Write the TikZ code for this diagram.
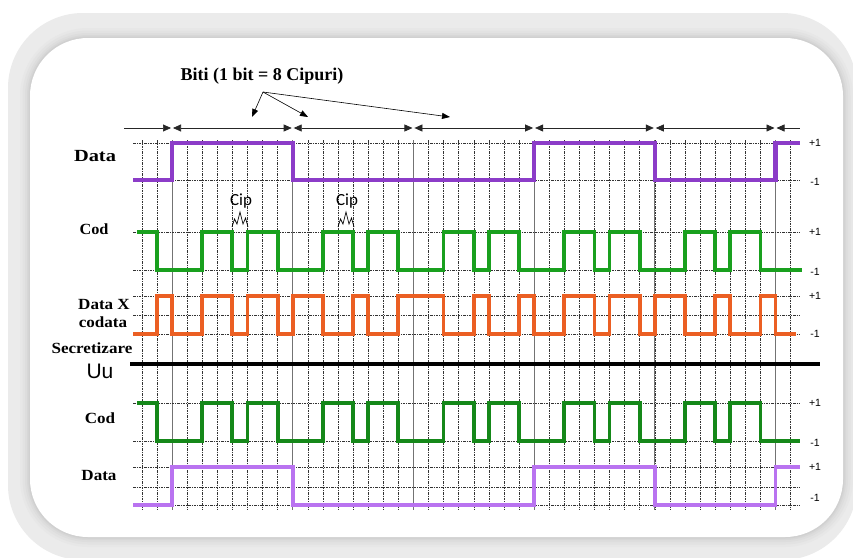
\documentclass[tikz,border=0pt]{standalone}
\usepackage{fontspec}
\setmainfont{Liberation Serif}
\newfontfamily\sansf{Liberation Sans}
\newfontfamily\cipf{Carlito}
\usetikzlibrary{arrows.meta}
\definecolor{dpurple}{RGB}{140,60,200}
\definecolor{lpurple}{RGB}{185,115,240}
\definecolor{cgreen}{RGB}{25,160,30}
\definecolor{corange}{RGB}{235,95,35}
\newcommand\chipv[1]{172+15.0875*(#1)}
\newcommand\chipx[1]{{\chipv{#1}}}
\tikzset{
  gridln/.style={black!80, line width=0.5pt, dash pattern=on 2.5pt off 1.2pt on 0.6pt off 1.2pt},
  bitln/.style={black!55, line width=0.7pt},
  sig/.style={line width=3.8pt, line join=miter, line cap=butt},
  lbl/.style={font=\fontsize{15.5}{17}\selectfont\bfseries, inner sep=0pt},
  lvl/.style={font=\sansf\fontsize{10.5}{12}\selectfont, inner sep=0pt},
  dimln/.style={line width=0.7pt, black!85},
  dtip/.tip={Triangle[length=8pt,width=7pt]},
  ptr/.style={-{Triangle[length=8pt,width=6pt]}, line width=0.6pt},
}
\begin{document}
\begin{tikzpicture}[x=1pt,y=-1pt]
\useasboundingbox (0,0) rectangle (853,557);
% frame
\fill[white] (0,0) rectangle (853,557);
\fill[gray!16, rounded corners=75pt] (8,13) rectangle (857,560);
\foreach \w/\c in {20/19,15/23,10/27,6/31,3/37}
  \draw[gray!\c, line width=\w pt, rounded corners=58pt] (30,38) rectangle (843,537);
\fill[white, rounded corners=58pt] (30,38) rectangle (843,537);
% grid
\foreach \k in {-2,...,41}
  \draw[gridln] (\chipx{\k},140) -- (\chipx{\k},510);
\foreach \b in {0,8,...,40}
  \draw[bitln] (\chipx{\b},140) -- (\chipx{\b},510);
\foreach \y in {143,180,232,270,296,315,334,403,441,467,487,505}
  \draw[gridln] (133,\y) -- (800,\y);
% dimension line
\draw[dimln, -dtip] (124,128) -- ({\chipv{0}-1},128);
\foreach \i in {0,...,4}
  \draw[dimln, dtip-dtip] ({\chipv{8*\i}+1},128) -- ({\chipv{8*\i+8}-1},128);
\draw[dimln, dtip-] ({\chipv{40}+1},128) -- (800,128);
% title and pointers
\node[font=\fontsize{18}{20}\selectfont\bfseries, inner sep=0pt] (title) at (262,76) {Biti (1 bit = 8 Cipuri)};
\coordinate (src) at (263,92);
\coordinate (t1) at (252,117);
\coordinate (t2) at (308,117);
\coordinate (t3) at (450,117);
\draw[ptr] (src) -- (t1);
\draw[ptr] (src) -- (t2);
\draw[ptr] (src) -- (t3);
% Data (top)
\draw[sig, dpurple, line width=4.2pt] (133,180) -- (\chipx{0},180) -- (\chipx{0},143) -- (\chipx{8},143) -- (\chipx{8},180)
  -- (\chipx{24},180) -- (\chipx{24},143) -- (\chipx{32},143) -- (\chipx{32},180) -- (\chipx{40},180) -- (\chipx{40},143) -- (800,143);
% Cod (top)
\draw[sig, cgreen] (137,232) -- (\chipx{-1},232) -- (\chipx{-1},270)
  \foreach \i in {0,...,4}{ -- (\chipx{8*\i+2},270) -- (\chipx{8*\i+2},232) -- (\chipx{8*\i+4},232) -- (\chipx{8*\i+4},270)
    -- (\chipx{8*\i+5},270) -- (\chipx{8*\i+5},232) -- (\chipx{8*\i+7},232) -- (\chipx{8*\i+7},270) } -- (802,270);
% Data x codata
\draw[sig, corange] (133,334)
  \foreach \r/\f in {-1/0,2/4,5/7,8/10,12/13,15/18,20/21,23/24,26/28,29/31,32/34,36/37,39/40}{
    -- (\chipx{\r},334) -- (\chipx{\r},296) -- (\chipx{\f},296) -- (\chipx{\f},334)} -- (796,334);
% Uu line
\draw[line width=4.5pt] (130,364) -- (820,364);
% Cod (bottom)
\draw[sig, cgreen!85!black] (137,403) -- (\chipx{-1},403) -- (\chipx{-1},441)
  \foreach \i in {0,...,4}{ -- (\chipx{8*\i+2},441) -- (\chipx{8*\i+2},403) -- (\chipx{8*\i+4},403) -- (\chipx{8*\i+4},441)
    -- (\chipx{8*\i+5},441) -- (\chipx{8*\i+5},403) -- (\chipx{8*\i+7},403) -- (\chipx{8*\i+7},441) } -- (800,441);
% Data (bottom)
\draw[sig, lpurple] (133,505) -- (\chipx{0},505) -- (\chipx{0},467) -- (\chipx{8},467) -- (\chipx{8},505)
  -- (\chipx{24},505) -- (\chipx{24},467) -- (\chipx{32},467) -- (\chipx{32},505) -- (\chipx{40},505) -- (\chipx{40},467) -- (800,467);
% chip markers
\node[font=\cipf\fontsize{17}{19}\selectfont, inner sep=0pt] (cip1) at (241,201) {Cip};
\node[font=\cipf\fontsize{17}{19}\selectfont, inner sep=0pt] (cip2) at (347,201) {Cip};
\draw[line width=0.7pt] (232,227) -- (234.5,219) -- (237,224) -- (240,212) -- (243,224) -- (245.5,218) -- (248,227);
\draw[line width=0.7pt] (338,227) -- (340.5,219) -- (343,224) -- (346,212) -- (349,224) -- (351.5,218) -- (354,227);
% left labels
\node[lbl, font=\fontsize{17}{19}\selectfont\bfseries, xscale=1.2] (ldata) at (95,156) {Data};
\node[lbl, xscale=1.05] (lcod) at (94,229) {Cod};
\node[lbl, xscale=1.1] (ldx) at (104,304) {Data X};
\node[lbl, xscale=1.1] (lcodata) at (103,322) {codata};
\node[lbl, xscale=1.1] (lsec) at (92,348) {Secretizare};
\node[font=\sansf\fontsize{21}{23}\selectfont, inner sep=0pt] (luu) at (100,371) {Uu};
\node[lbl, xscale=1.1] (lcod2) at (100,418) {Cod};
\node[lbl, xscale=1.1] (ldata2) at (99,475) {Data};
% level labels
\node[lvl] (p1) at (815,143) {+1};
\node[lvl] (m1) at (815,182) {-1};
\node[lvl] (p2) at (815,232) {+1};
\node[lvl] (m2) at (815,272) {-1};
\node[lvl] (p3) at (815,296) {+1};
\node[lvl] (m3) at (815,334) {-1};
\node[lvl] (p4) at (815,403) {+1};
\node[lvl] (m4) at (815,443) {-1};
\node[lvl] (p5) at (815,467) {+1};
\node[lvl] (m5) at (815,498) {-1};
\end{tikzpicture}
\end{document}
